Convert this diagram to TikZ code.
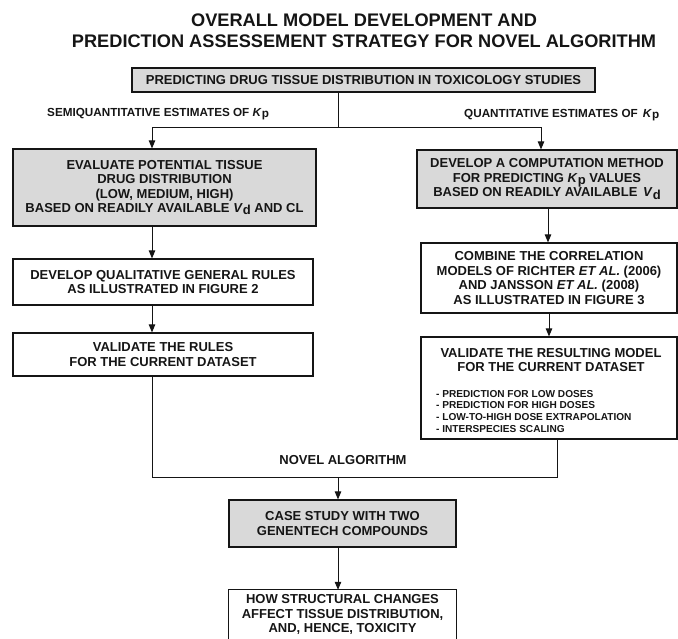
\documentclass[tikz,border=0pt]{standalone}
\usepackage{fontspec}
\setmainfont{Liberation Sans}
\usetikzlibrary{arrows.meta}
\definecolor{boxgray}{HTML}{D9D9D9}
\definecolor{ink}{HTML}{151515}
\newcommand{\Kp}{\textit{K}\raisebox{-0.3ex}{p}}
\newcommand{\Vdd}{\textit{V}\raisebox{-0.35ex}{d}}
\newcommand{\boxfont}{\fontsize{13}{14.5}\selectfont\bfseries}
\newcommand{\titlefont}{\fontsize{18.2}{21}\selectfont\bfseries}
\newcommand{\labfont}{\fontsize{11.7}{13}\selectfont\bfseries}
\newcommand{\itemfont}{\fontsize{10.1}{11.7}\selectfont\bfseries}
\begin{document}
\begin{tikzpicture}[x=1pt,y=-1pt,
  every node/.style={text=ink},
  box/.style={draw=ink, line width=1.2pt, inner sep=0pt, align=center, font=\boxfont},
  graybox/.style={box, fill=boxgray},
  conn/.style={draw=ink, line width=1pt},
  arr/.style={draw=ink, line width=1pt, -{Triangle[length=8pt,width=6.5pt]}},
  txt/.style={inner sep=0pt, font=\boxfont, align=center},
  itemtext/.style={inner sep=0pt, font=\itemfont, anchor=base west},
  lab/.style={inner sep=0pt, font=\labfont, anchor=base west}]
\useasboundingbox (0,0) rectangle (678,638);
% title
\node[inner sep=0pt, font=\titlefont, anchor=base] (t1) at (364,26) {OVERALL MODEL DEVELOPMENT AND};
\node[inner sep=0pt, font=\titlefont, anchor=base] (t2) at (364,47) {PREDICTION ASSESSEMENT STRATEGY FOR NOVEL ALGORITHM};
% top box
\node[graybox, minimum width=463pt, minimum height=24pt] (top) at (363.5,80) {PREDICTING DRUG TISSUE DISTRIBUTION IN TOXICOLOGY STUDIES};
% labels
\node[lab] (lab1) at (47,116) {SEMIQUANTITATIVE ESTIMATES OF \Kp};
\node[lab] (lab2) at (464,117) {QUANTITATIVE ESTIMATES OF~\,\Kp};
% left column
\node[graybox, minimum width=303pt, minimum height=77pt] (L1) at (164.5,187.5) {EVALUATE POTENTIAL TISSUE\\DRUG DISTRIBUTION\\(LOW, MEDIUM, HIGH)\\BASED ON READILY AVAILABLE \Vdd\ AND CL};
\node[box, minimum width=300pt, minimum height=46pt] (L2) at (163,282) {DEVELOP QUALITATIVE GENERAL RULES\\AS ILLUSTRATED IN FIGURE 2};
\node[box, minimum width=300pt, minimum height=43pt] (L3) at (163,354.5) {VALIDATE THE RULES\\FOR THE CURRENT DATASET};
% right column
\node[graybox, minimum width=260pt, minimum height=58pt] (R1) at (547,179) {DEVELOP A COMPUTATION METHOD\\FOR PREDICTING \Kp\ VALUES\\BASED ON READILY AVAILABLE~\,\Vdd};
\node[box, minimum width=256pt, minimum height=70pt] (R2) at (549,278) {COMBINE THE CORRELATION\\MODELS OF RICHTER \textit{ET AL.} (2006)\\AND JANSSON \textit{ET AL.} (2008)\\AS ILLUSTRATED IN FIGURE 3};
\node[box, minimum width=256pt, minimum height=102pt] (R3) at (549,388) {};
\node[txt] (R3t) at (551,360) {VALIDATE THE RESULTING MODEL\\FOR THE CURRENT DATASET};
\node[itemtext] (i1) at (436,397) {- PREDICTION FOR LOW DOSES};
\node[itemtext] (i2) at (436,408.7) {- PREDICTION FOR HIGH DOSES};
\node[itemtext] (i3) at (436,420.4) {- LOW-TO-HIGH DOSE EXTRAPOLATION};
\node[itemtext] (i4) at (436,432.1) {- INTERSPECIES SCALING};
% bottom
\node[txt] (novel) at (343,460) {NOVEL ALGORITHM};
\node[graybox, minimum width=227pt, minimum height=47pt] (case) at (342.5,523.5) {CASE STUDY WITH TWO\\GENENTECH COMPOUNDS};
\node[txt, minimum width=227pt, minimum height=49pt] (final) at (342.5,614.5) {HOW STRUCTURAL CHANGES\\AFFECT TISSUE DISTRIBUTION,\\AND, HENCE, TOXICITY};
\draw[draw=ink, line width=1.2pt] (final.south west) -- (final.north west) -- (final.north east) -- (final.south east);
% junction coordinates
\coordinate (sp) at (338,127);
\coordinate (spL) at (152,127);
\coordinate (spR) at (541,127);
\coordinate (rc1) at (548,0);
\coordinate (rc2) at (549,0);
\coordinate (jL) at (152,477);
\coordinate (jR) at (557,477);
\coordinate (jC) at (338,477);
% connectors
\draw[conn] (top.south -| sp) -- (sp);
\draw[conn] (spL) -- (spR);
\draw[arr] (spL) -- (spL |- L1.north);
\draw[arr] (spR) -- (spR |- R1.north);
\draw[arr] (L1.south -| spL) -- (L2.north -| spL);
\draw[arr] (L2.south -| spL) -- (L3.north -| spL);
\draw[arr] (R1.south -| rc1) -- (R2.north -| rc1);
\draw[arr] (R2.south -| rc2) -- (R3.north -| rc2);
\draw[conn] (L3.south -| jL) -- (jL) -- (jR) -- (R3.south -| jR);
\draw[arr] (jC) -- (case.north -| jC);
\draw[arr] (case.south -| jC) -- (final.north -| jC);
\end{tikzpicture}
\end{document}
